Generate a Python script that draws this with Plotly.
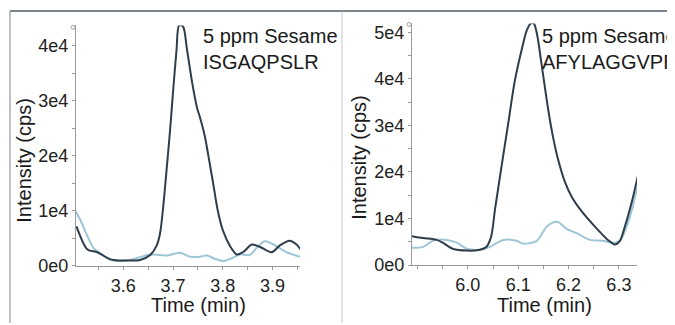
import plotly.graph_objects as go

W, H = 675, 325
OFF = 8  # the page body has an 8px margin; design coordinates are in window pixels

# ---------------- data ----------------
left_dark_t = [3.506, 3.528, 3.548, 3.574, 3.594, 3.614, 3.634, 3.654, 3.667, 3.674, 3.681,
               3.687, 3.694, 3.700, 3.707, 3.712, 3.720, 3.728, 3.738, 3.748, 3.754, 3.764,
               3.770, 3.780, 3.790, 3.800, 3.814, 3.828, 3.842, 3.858, 3.874, 3.898, 3.914,
               3.934, 3.948, 3.958]
left_dark_i = [7200, 3000, 2500, 1200, 1000, 1000, 1100, 2000, 3700, 6000, 11500,
               17500, 24700, 31700, 39300, 43700, 43500, 39300, 33500, 28800, 27000, 23500,
               20500, 15300, 10000, 6500, 3700, 2100, 2600, 3900, 3500, 2500, 3700,
               4600, 3900, 2800]

left_light_t = [3.504, 3.514, 3.528, 3.540, 3.560, 3.580, 3.608, 3.634, 3.654, 3.674, 3.688,
                3.714, 3.734, 3.754, 3.768, 3.784, 3.800, 3.818, 3.834, 3.854, 3.868, 3.884,
                3.900, 3.928, 3.958]
left_light_i = [10000, 8300, 5400, 3300, 1900, 1000, 1000, 1600, 2100, 2000, 1900,
                2400, 1700, 1700, 1900, 1300, 900, 1400, 2100, 2000, 3300, 4500,
                4000, 2500, 1600]

right_dark_t = [5.889, 5.911, 5.938, 5.950, 5.970, 5.998, 6.024, 6.036, 6.046, 6.054, 6.068,
                6.080, 6.093, 6.107, 6.117, 6.125, 6.131, 6.137, 6.147, 6.159, 6.169, 6.179,
                6.193, 6.207, 6.227, 6.252, 6.278, 6.292, 6.302, 6.312, 6.326, 6.338]
right_dark_i = [6200, 5800, 5400, 4800, 3500, 3100, 3300, 3800, 6000, 12000, 22000,
                30300, 39400, 46300, 50400, 51900, 51900, 49800, 42700, 33800, 27600, 22800,
                17800, 14500, 11400, 8300, 5400, 4400, 5200, 8300, 13700, 19300]

right_light_t = [5.889, 5.911, 5.930, 5.958, 5.978, 5.998, 6.024, 6.044, 6.070, 6.097, 6.109,
                 6.137, 6.157, 6.177, 6.197, 6.217, 6.243, 6.268, 6.288, 6.302, 6.322, 6.338]
right_light_i = [3700, 3900, 5200, 5400, 4800, 3500, 3300, 3900, 5400, 5200, 4600,
                 5200, 8300, 9300, 7700, 6800, 5400, 5200, 4800, 5200, 10400, 17500]

left_x_ticks = [round(3.50 + 0.05 * k, 2) for k in range(10)]
left_x_labels = ["", "", "3.6", "", "3.7", "", "3.8", "", "3.9", ""]
right_x_ticks = [round(5.90 + 0.05 * k, 2) for k in range(9)]
right_x_labels = ["", "", "6.0", "", "6.1", "", "6.2", "", "6.3"]
left_y_ticks = [5000 * k for k in range(9)]
left_y_labels = ["0e0", "", "1e4", "", "2e4", "", "3e4", "", "4e4"]
right_y_ticks = [5000 * k for k in range(11)]
right_y_labels = ["0e0", "", "1e4", "", "2e4", "", "3e4", "", "4e4", "", "5e4"]

titles = ["5 ppm Sesame<br>ISGAQPSLR", "5 ppm Sesame<br>AFYLAGGVPR"]
x_title = "Time (min)"
y_title = "Intensity (cps)"

DARK = "#2d3d4b"
LIGHT = "#9fc6d7"
FONT = "Liberation Sans, Arial, sans-serif"


def px(x):
    return (x - OFF) / W


def py(y):
    return 1 - (y - OFF) / H


fig = go.Figure()
fig.add_trace(go.Scatter(x=left_light_t, y=left_light_i, mode="lines", line=dict(color=LIGHT, width=2, shape="spline", smoothing=0.8), xaxis="x", yaxis="y"))
fig.add_trace(go.Scatter(x=left_dark_t, y=left_dark_i, mode="lines", line=dict(color=DARK, width=2, shape="spline", smoothing=0.8), xaxis="x", yaxis="y"))
fig.add_trace(go.Scatter(x=right_light_t, y=right_light_i, mode="lines", line=dict(color=LIGHT, width=2, shape="spline", smoothing=0.8), xaxis="x2", yaxis="y2"))
fig.add_trace(go.Scatter(x=right_dark_t, y=right_dark_i, mode="lines", line=dict(color=DARK, width=2, shape="spline", smoothing=0.8), xaxis="x2", yaxis="y2"))

axis_common = dict(showgrid=False, zeroline=False, showline=True, linecolor="#9a9a9a", linewidth=1,
                   ticks="outside", ticklen=3, tickcolor="#9a9a9a", tickwidth=1,
                   tickfont=dict(family=FONT, size=18, color="#222222"), tickmode="array")

fig.update_layout(
    width=W, height=H, autosize=False,
    margin=dict(l=0, r=0, t=0, b=0),
    paper_bgcolor="white", plot_bgcolor="white",
    showlegend=False,
    xaxis=dict(domain=[px(76), px(300)], range=[3.505, 3.955], anchor="y",
               tickvals=left_x_ticks, ticktext=left_x_labels, **axis_common),
    yaxis=dict(domain=[py(274), py(25)], range=[0, 43700], anchor="x",
               tickvals=left_y_ticks, ticktext=left_y_labels, **axis_common),
    xaxis2=dict(domain=[px(412), px(637)], range=[5.889, 6.336], anchor="y2",
                tickvals=right_x_ticks, ticktext=right_x_labels, **axis_common),
    yaxis2=dict(domain=[py(273), py(23)], range=[0, 51900], anchor="x2",
                tickvals=right_y_ticks, ticktext=right_y_labels, **axis_common),
)

# frame lines
fig.add_shape(type="line", xref="paper", yref="paper", x0=px(10), x1=1, y0=py(10), y1=py(10),
              line=dict(color="#4f5b66", width=1.5))
fig.add_shape(type="line", xref="paper", yref="paper", x0=px(10), x1=px(10), y0=py(10), y1=0,
              line=dict(color="#a8adb2", width=1.5))
fig.add_shape(type="line", xref="paper", yref="paper", x0=px(342), x1=px(342), y0=py(10), y1=0,
              line=dict(color="#c4c7ca", width=1))

# small circles at top of y axes
for cx, cy in [(73, 27), (409, 24)]:
    fig.add_shape(type="circle", xref="paper", yref="paper",
                  x0=px(cx - 2), x1=px(cx + 2), y0=py(cy + 2), y1=py(cy - 2),
                  line=dict(color="#a0a0a0", width=1))

# panel labels
for xpos, txt in [(201, titles[0]), (540, titles[1])]:
    fig.add_annotation(xref="paper", yref="paper", x=px(xpos), y=py(22), xanchor="left", yanchor="top",
                       text=txt, showarrow=False, align="left",
                       font=dict(family=FONT, size=20, color="#1a1a1a"))

# axis titles
for xpos in [198, 544]:
    fig.add_annotation(xref="paper", yref="paper", x=px(xpos), y=py(314), xanchor="center", yanchor="middle",
                       text=x_title, showarrow=False, font=dict(family=FONT, size=20, color="#1a1a1a"))
for xpos, ypos in [(24, 165), (359, 162)]:
    fig.add_annotation(xref="paper", yref="paper", x=px(xpos), y=py(ypos), xanchor="center", yanchor="middle",
                       text=y_title, textangle=-90, showarrow=False, font=dict(family=FONT, size=20, color="#1a1a1a"))

fig.write_html("out.html")
